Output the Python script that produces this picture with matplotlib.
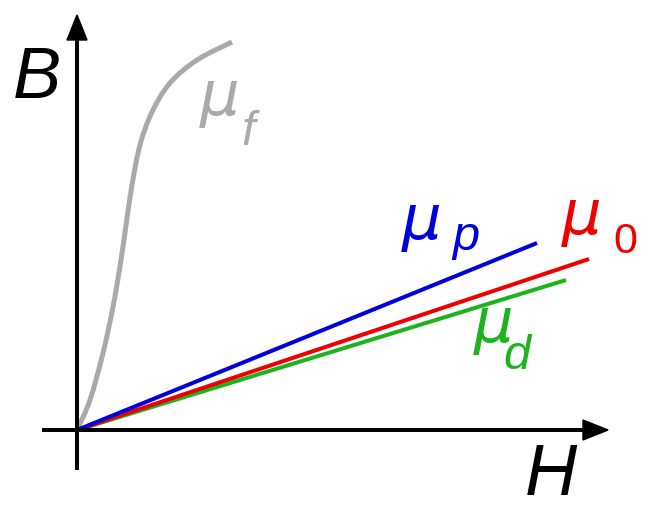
import matplotlib
matplotlib.use("Agg")
import matplotlib.pyplot as plt
from matplotlib.patches import Polygon, PathPatch
from matplotlib.path import Path

# Data (H, B) in drawing units, origin at the axes crossing
ferro_H = [0, 13, 26, 36, 44, 49, 55, 63, 75, 93, 120, 155]
ferro_B = [0, 30, 77, 123, 170, 205, 245, 285, 318, 347, 370, 388]
para_H = [0, 460]
para_B = [0, 187]
vac_H = [0, 512]
vac_B = [0, 171]
dia_H = [0, 489]
dia_B = [0, 150]

W, Hh = 664, 512
fig = plt.figure(figsize=(W / 100, Hh / 100), dpi=100)
ax = fig.add_axes([0, 0, 1, 1])
ax.set_xlim(-77, W - 77)
ax.set_ylim(430 - Hh, 430)
ax.axis("off")

lw_axis = 2.9
ax.plot([-35, 510], [0, 0], color="black", lw=lw_axis, solid_capstyle="butt", zorder=2)
ax.plot([0, 0], [-40, 395], color="black", lw=lw_axis, solid_capstyle="butt", zorder=2)
ax.add_patch(Polygon([[531, 0], [506, 10], [506, -10]], closed=True, color="black", zorder=3))
ax.add_patch(Polygon([[0, 415], [-10, 390], [10, 390]], closed=True, color="black", zorder=3))

# smooth curve through the read points (Catmull-Rom drawn as Bezier path)
pts = list(zip(ferro_H, ferro_B))
verts = [pts[0]]
codes = [Path.MOVETO]
n = len(pts)
for i in range(n - 1):
    p0 = pts[i - 1] if i > 0 else pts[i]
    p1 = pts[i]
    p2 = pts[i + 1]
    p3 = pts[i + 2] if i + 2 < n else pts[i + 1]
    c1 = (p1[0] + (p2[0] - p0[0]) / 6, p1[1] + (p2[1] - p0[1]) / 6)
    c2 = (p2[0] - (p3[0] - p1[0]) / 6, p2[1] - (p3[1] - p1[1]) / 6)
    verts += [c1, c2, p2]
    codes += [Path.CURVE4] * 3
ax.add_patch(PathPatch(Path(verts, codes), facecolor="none", edgecolor="#aaaaaa",
                       lw=3.6, capstyle="butt", joinstyle="round", zorder=1))

ax.plot(dia_H, dia_B, color="#1db31d", lw=2.9, solid_capstyle="butt", zorder=1)
ax.plot(vac_H, vac_B, color="#ee0000", lw=2.9, solid_capstyle="butt", zorder=1)
ax.plot(para_H, para_B, color="#0000dd", lw=2.9, solid_capstyle="butt", zorder=1)

fam = "Liberation Sans"
def px(x, y):
    return x - 77, 430 - y

ax.text(*px(13, 98), "B", fontsize=52, family=fam, style="italic", ha="left", va="baseline")
ax.text(*px(525, 495), "H", fontsize=52, family=fam, style="italic", ha="left", va="baseline")

def mu_label(mx, my, sub, sx, sy, color, sub_style="italic", sub_size=35):
    ax.text(*px(mx, my), "\u03bc", fontsize=45, family="DejaVu Sans", style="oblique",
            color=color, ha="left", va="baseline")
    ax.text(*px(sx, sy), sub, fontsize=sub_size, family=fam, style=sub_style,
            color=color, ha="left", va="baseline")

mu_label(402, 239, "p", 452, 250, "#0000dd")
mu_label(562, 234, "0", 613, 253, "#ee0000", sub_style="normal", sub_size=31)
mu_label(474, 342, "d", 503, 369, "#1db31d")
mu_label(200, 115, "f", 241, 145, "#aaaaaa")

fig.savefig("out.png", dpi=100)
